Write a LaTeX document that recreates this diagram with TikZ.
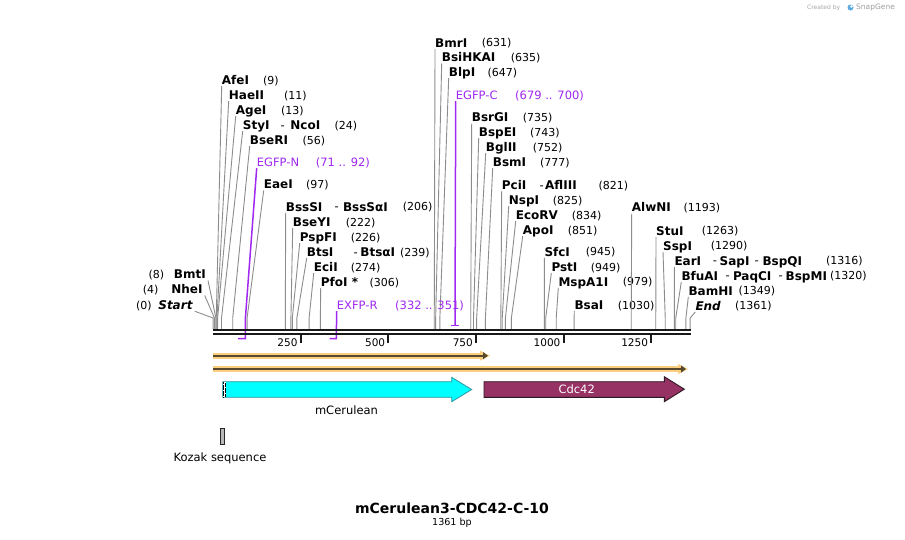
\documentclass[tikz,border=0pt]{standalone}
\usepackage{fontspec}
\setmainfont{DejaVu Sans}
\usetikzlibrary{arrows.meta}
\definecolor{prim}{RGB}{160,40,240}
\definecolor{sitegray}{RGB}{140,140,140}
\definecolor{bandor}{RGB}{252,206,128}
\definecolor{banddk}{RGB}{88,72,46}
\definecolor{cer}{RGB}{0,255,255}
\definecolor{cerdk}{RGB}{50,150,160}
\definecolor{cdc}{RGB}{150,50,100}
\definecolor{cdcdk}{RGB}{45,25,35}
\definecolor{bbcol}{RGB}{25,25,25}
\definecolor{logoblue}{RGB}{90,170,225}
\newcommand{\bpx}[1]{213.1+0.3505*#1}
% right-hand enzyme label: id, text, x, ycenter, bp, number x
\newcommand{\enzR}[6]{%
  \node[enzname] (#1) at (#3,#4+4.4) {#2};
  \node[enznum] (#1-n) at (#6,#4+4.2) {(#5)};
  \coordinate (#1-e) at (\bpx{#5},318);
  \coordinate (#1-s) at (\bpx{#5},329);
  \draw[siteline] (#1.south west) -- (#1-e) -- (#1-s);
}
% left-hand enzyme label: id, text, x end, ycenter, bp, number x
\newcommand{\enzL}[6]{%
  \node[enzname, anchor=base east] (#1) at (#3,#4+4.4) {#2};
  \node[enznum] (#1-n) at (#6,#4+4.2) {(#5)};
  \coordinate (#1-e) at (\bpx{#5},318);
  \coordinate (#1-s) at (\bpx{#5},329);
  \draw[siteline] ([xshift=2pt]#1.south east) -- (#1-e) -- (#1-s);
}
\newcommand{\lblpart}[4]{\node[enzname] (#1) at (#2,#3+4.4) {#4};}
\newcommand{\dashpart}[3]{\node[dashlbl] (#1) at (#2-0.6,#3+4.2) {-};}
\tikzset{
  enzname/.style={font=\fontsize{12}{14}\selectfont\bfseries, anchor=base west, inner sep=0pt, text height=8.8pt, text depth=1.6pt},
  enznum/.style={font=\fontsize{11}{13}\selectfont, anchor=base west, inner sep=0pt},
  dashlbl/.style={font=\fontsize{11.5}{13}\selectfont, anchor=base west, inner sep=0pt},
  primlbl/.style={font=\fontsize{11.5}{13}\selectfont, text=prim, anchor=base west, inner sep=0pt, text height=8.4pt, text depth=1.8pt},
  siteline/.style={draw=sitegray, line width=0.9pt},
  primline/.style={draw=prim, line width=1.5pt},
  bbline/.style={draw=bbcol, line width=2pt},
  tickline/.style={draw=bbcol, line width=2pt},
  ticklbl/.style={font=\fontsize{10.5}{12}\selectfont, anchor=east, inner sep=0pt},
  featlbl/.style={font=\fontsize{11.5}{13}\selectfont, inner sep=0pt},
  orband/.style={draw=bandor, line width=6pt},
  dkband/.style={draw=banddk, line width=2pt},
}
\begin{document}
\begin{tikzpicture}[x=1pt,y=-1pt]
\useasboundingbox (0,0) rectangle (905,539);
\fill[white] (0,0) rectangle (905,539);

% SnapGene credit
\node[font=\fontsize{6}{7}\selectfont, text=gray!70, anchor=west, inner sep=0pt] (cred) at (807,7.5) {Created by};
\fill[logoblue] (850.5,7.5) circle (3pt);
\fill[white] (851.5,6.5) circle (1.3pt);
\node[font=\fontsize{7.5}{8}\selectfont, text=gray!75, anchor=west, inner sep=0pt] (sg) at (856,7.5) {SnapGene};

% ---------- enzyme sites ----------
\enzL{Start}{\itshape Start}{192.7}{305}{0}{136}
\enzL{NheI}{NheI}{202.7}{289.3}{4}{142.7}
\enzL{BmtI}{BmtI}{206}{274.3}{8}{148.3}

\enzR{AfeI}{AfeI}{221.7}{80}{9}{263}
\enzR{HaeII}{HaeII}{228.7}{95}{11}{284}
\enzR{AgeI}{AgeI}{235.7}{110}{13}{281}
\enzR{StyI}{StyI}{242.7}{125}{24}{334.3}
\dashpart{StyI-d}{281}{125}\lblpart{NcoI}{290.2}{125}{NcoI}
\enzR{BseRI}{BseRI}{249.7}{140}{56}{302.3}
\enzR{EaeI}{EaeI}{263.7}{184.3}{97}{306}

\enzR{BssSI}{BssSI}{285.7}{206.7}{206}{402.7}
\dashpart{BssSI-d}{335}{206.7}\lblpart{BssSaI}{342.8}{206.7}{BssSαI}
\enzR{BseYI}{BseYI}{292.7}{222}{222}{345.7}
\enzR{PspFI}{PspFI}{299.7}{237}{226}{350.7}
\enzR{BtsI}{BtsI}{306.7}{252}{239}{400}
\dashpart{BtsI-d}{354}{252}\lblpart{BtsaI}{360.2}{252}{BtsαI}
\enzR{EciI}{EciI}{313.7}{267}{274}{350.7}
\enzR{PfoI}{PfoI *}{320.7}{282}{306}{369.3}

\enzR{BmrI}{BmrI}{435}{42.7}{631}{481.7}
\enzR{BsiHKAI}{BsiHKAI}{441.7}{57.3}{635}{510.7}
\enzR{BlpI}{BlpI}{448.7}{72}{647}{487.3}
\enzR{BsrGI}{BsrGI}{471.7}{117.3}{735}{522.7}
\enzR{BspEI}{BspEI}{478.7}{132}{743}{530}
\enzR{BglII}{BglII}{485.7}{147}{752}{532.7}
\enzR{BsmI}{BsmI}{492.7}{162}{777}{540}

\enzR{PciI}{PciI}{501.7}{185}{821}{598.3}
\dashpart{PciI-d}{540}{185}\lblpart{AflIII}{545}{185}{AflIII}
\enzR{NspI}{NspI}{508.7}{200}{825}{552.7}
\enzR{EcoRV}{EcoRV}{515.7}{215}{834}{571.7}
\enzR{ApoI}{ApoI}{522.7}{230}{851}{567.7}
\enzR{SfcI}{SfcI}{544.3}{251.7}{945}{585.7}
\enzR{PstI}{PstI}{551.3}{267}{949}{590.7}
\enzR{MspAlI}{MspA1I}{558.3}{281.7}{979}{622.7}
\enzR{BsaI}{BsaI}{574.3}{305}{1030}{617.7}

\enzR{AlwNI}{AlwNI}{631.7}{207.3}{1193}{683.3}
\enzR{StuI}{StuI}{656}{230.7}{1263}{701.7}
\enzR{SspI}{SspI}{663}{245.7}{1290}{710.7}
\enzR{EarI}{EarI}{674.3}{260.7}{1316}{826}
\dashpart{EarI-d1}{713.3}{260.7}\lblpart{SapI}{719.5}{260.7}{SapI}
\dashpart{EarI-d2}{755}{260.7}\lblpart{BspQI}{762.3}{260.7}{BspQI}
\enzR{BfuAI}{BfuAI}{681.3}{275.7}{1320}{830}
\dashpart{BfuAI-d1}{726}{275.7}\lblpart{PaqCI}{732.8}{275.7}{PaqCI}
\dashpart{BfuAI-d2}{779}{275.7}\lblpart{BspMI}{785.5}{275.7}{BspMI}
\enzR{BamHI}{BamHI}{688.3}{290.7}{1349}{738.3}
\enzR{End}{\itshape End}{695.3}{305.7}{1361}{735}

% ---------- primers ----------
\node[primlbl] (EGFPN) at (256.7,166.2) {EGFP-N};
\node[primlbl] (EGFPN-n) at (315.7,166.2) {(71 .. 92)};
\coordinate (EGFPN-e) at (245.4,318);
\coordinate (EGFPN-b) at (245.4,338.7);
\coordinate (EGFPN-a) at (238,338.7);
\draw[primline] (EGFPN.south west) -- (EGFPN-e) -- (EGFPN-b) -- (EGFPN-a);

\node[primlbl] (EXFPR) at (336.7,309.2) {EXFP-R};
\node[primlbl] (EXFPR-n) at (395,309.2) {(332 .. 351)};
\coordinate (EXFPR-b) at (336.3,338.7);
\coordinate (EXFPR-a) at (329.5,338.7);
\draw[primline] (EXFPR.south west) -- (EXFPR-b) -- (EXFPR-a);

\node[primlbl] (EGFPC) at (455.7,99.2) {EGFP-C};
\node[primlbl] (EGFPC-n) at (515,99.2) {(679 .. 700)};
\coordinate (EGFPC-e) at (455,325.5);
\coordinate (EGFPC-a) at (451.1,325.5);
\coordinate (EGFPC-b) at (458.5,325.5);
\draw[primline] (EGFPC.south west) -- (EGFPC-e);
\draw[primline] (EGFPC-a) -- (EGFPC-b);

% ---------- backbone ----------
\coordinate (bbL1) at (213,330.2);
\coordinate (bbR1) at (691,330.2);
\coordinate (bbL2) at (213,334);
\coordinate (bbR2) at (691,334);
\draw[bbline] (bbL1) -- (bbR1);
\draw[bbline] (bbL2) -- (bbR2);

% ruler ticks
\foreach \v/\xx in {250/300.7, 500/388.35, 750/476, 1000/563.6, 1250/651.2}{
  \coordinate (tk\v a) at (\xx,335);
  \coordinate (tk\v b) at (\xx,342.5);
  \draw[tickline] (tk\v a) -- (tk\v b);
  \node[ticklbl] (tl\v) at (\xx-3,342.5) {\v};
}

% ---------- ORF bars ----------
\coordinate (o1a) at (213,355.7);
\coordinate (o1b) at (482,355.7);
\coordinate (o1t) at (488,355.7);
\draw[orband] (o1a) -- (o1b);
\fill[bandor] (480,350.7) -- (490,355.7) -- (480,360.7) -- cycle;
\draw[dkband, -{Triangle[length=5pt,width=7pt]}] (o1a) -- (o1t);

\coordinate (o2a) at (213,369);
\coordinate (o2b) at (680,369);
\coordinate (o2t) at (686,369);
\draw[orband] (o2a) -- (o2b);
\fill[bandor] (678,364) -- (688,369) -- (678,374) -- cycle;
\draw[dkband, -{Triangle[length=5pt,width=7pt]}] (o2a) -- (o2t);

% ---------- features ----------
\draw[fill=cer, draw=cerdk, line width=0.8pt]
  (222.7,381.7) -- (451.7,381.7) -- (451.7,377.3) -- (471.7,389.5) -- (451.7,401.7) -- (451.7,397.3) -- (222.7,397.3) -- cycle;
\fill[white] (223.1,382.2) rectangle (226,396.8);
\draw[black, line width=0.6pt, dash pattern=on 0.6pt off 0.6pt] (223.7,382.2) -- (223.7,396.8);
\draw[black, line width=0.6pt, dash pattern=on 0.6pt off 0.6pt] (225.3,382.8) -- (225.3,396.8);
\node[featlbl] (mcer) at (346.5,410.5) {mCerulean};

\draw[fill=cdc, draw=cdcdk, line width=0.9pt]
  (484,381.7) -- (664.3,381.7) -- (664.3,376.7) -- (684.3,389.2) -- (664.3,401.7) -- (664.3,397.3) -- (484,397.3) -- cycle;
\node[featlbl, text=white] (cdc42) at (576.7,389) {Cdc42};

\draw[fill=gray!55, draw=gray!30!black, line width=0.7pt] (220.7,428.3) rectangle (224,444);
\node[featlbl] (kozak) at (220,458) {Kozak sequence};

% ---------- title ----------
\node[font=\fontsize{14}{16}\selectfont\bfseries, inner sep=0pt] (title) at (452,508) {mCerulean3-CDC42-C-10};
\node[font=\fontsize{9.6}{11}\selectfont, inner sep=0pt] (len) at (452,523) {1361 bp};
\end{tikzpicture}
\end{document}
